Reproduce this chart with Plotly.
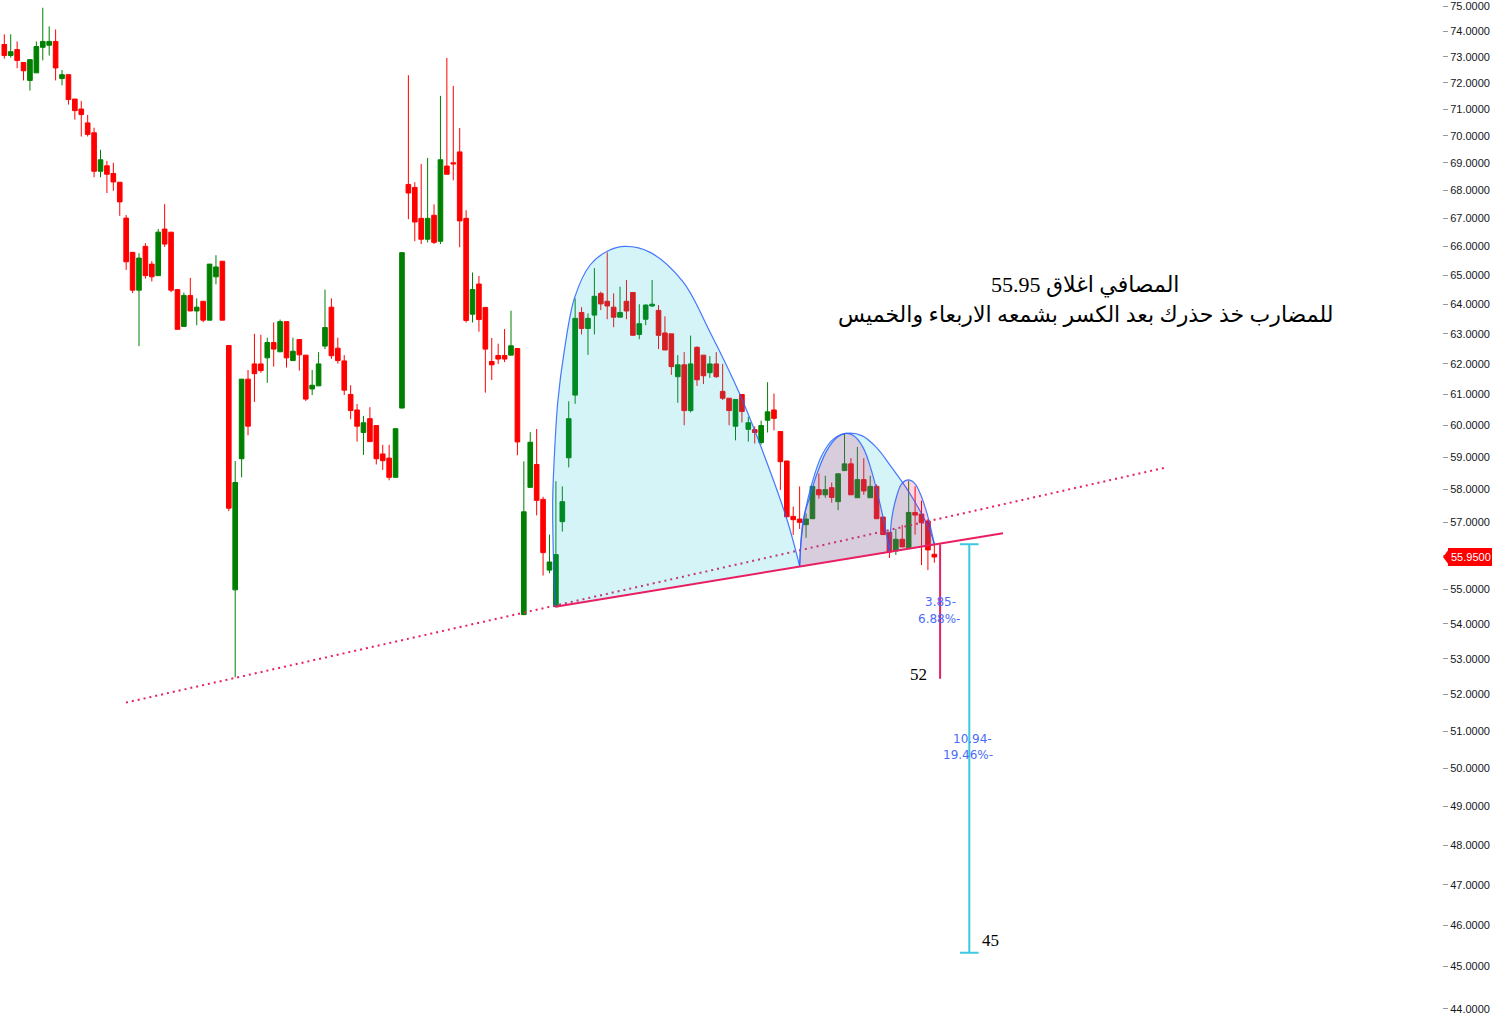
import math
import plotly.graph_objects as go

# ---------------- candle data (daily OHLC) ----------------
opens = [73.48, 73.05, 73.28, 72.78, 72.09, 72.38, 73.37, 73.45, 73.60, 72.16,
         72.31, 71.38, 71.00, 70.48, 70.11, 68.69, 68.89, 68.61, 68.29, 67.00,
         65.79, 64.48, 66.00, 65.38, 64.98, 66.61, 66.50, 64.50, 63.25, 64.30,
         63.77, 64.10, 63.46, 64.94, 65.48, 62.61, 54.98, 58.95, 61.50, 62.00,
         62.00, 62.20, 62.71, 62.40, 63.41, 62.11, 62.81, 62.29, 61.18, 61.28,
         62.59, 63.90, 62.52, 62.10, 61.00, 60.50, 59.78, 60.22, 60.00, 59.10,
         58.97, 58.37, 60.56, 68.21, 68.10, 66.99, 66.25, 67.10, 66.18, 68.88,
         69.00, 69.40, 66.99, 63.66, 64.69, 63.89, 62.08, 62.28, 62.28, 62.29,
         62.51, 54.26, 58.06, 58.77, 57.69, 55.56, 54.49, 57.01, 58.98, 60.98,
         63.72, 63.18, 63.63, 64.37, 64.10, 63.90, 63.56, 64.10, 64.40, 62.98,
         63.49, 63.94, 63.79, 63.03, 63.00, 61.58, 61.97, 60.48, 62.55, 62.29,
         61.71, 62.00, 61.10, 60.88, 59.98, 61.00, 59.88, 59.87, 59.46, 60.17,
         60.50, 59.81, 58.88, 57.17, 57.09, 56.92, 57.10, 57.99, 57.83, 58.05,
         57.62, 58.58, 58.79, 57.74, 58.30, 57.74, 58.09, 57.15, 56.69, 56.13,
         56.48, 56.22, 57.29, 57.24, 57.03, 56.03]
highs = [73.88, 73.88, 73.60, 72.78, 72.89, 73.60, 74.93, 74.19, 74.07, 72.49,
         72.31, 71.38, 71.31, 70.78, 70.30, 69.48, 69.07, 69.00, 68.29, 67.11,
         65.79, 65.76, 66.11, 65.48, 66.61, 67.50, 66.50, 64.50, 64.40, 64.90,
         64.20, 64.10, 65.38, 65.69, 65.48, 62.61, 58.88, 61.50, 61.80, 63.00,
         62.97, 62.87, 63.38, 63.48, 63.41, 62.87, 62.81, 62.29, 61.80, 62.39,
         64.50, 64.20, 62.87, 62.29, 61.30, 60.69, 60.31, 60.59, 60.00, 59.39,
         59.39, 59.90, 65.78, 72.29, 68.29, 68.96, 69.18, 67.49, 71.50, 72.96,
         71.88, 70.29, 67.28, 65.09, 64.97, 63.89, 62.86, 62.67, 63.16, 63.78,
         62.51, 58.87, 59.79, 59.89, 57.77, 56.62, 58.25, 58.09, 60.78, 64.20,
         63.90, 63.69, 65.24, 64.43, 65.79, 64.37, 64.60, 64.83, 64.40, 64.00,
         64.00, 64.83, 63.97, 63.59, 63.00, 62.29, 62.39, 62.94, 62.58, 62.29,
         62.26, 62.39, 62.00, 60.88, 60.84, 61.00, 60.28, 59.97, 60.16, 61.40,
         61.03, 59.81, 58.88, 57.47, 58.09, 57.26, 58.09, 58.49, 58.42, 58.21,
         58.48, 59.75, 58.97, 59.32, 58.97, 58.42, 58.15, 57.15, 56.69, 56.79,
         56.91, 58.27, 58.09, 57.65, 57.09, 56.37]
lows = [72.93, 72.97, 72.56, 72.09, 71.70, 72.38, 72.86, 73.05, 72.09, 71.90,
        71.17, 70.60, 69.97, 69.97, 68.47, 68.47, 67.90, 67.98, 67.08, 65.18,
        64.38, 62.59, 64.88, 64.78, 64.98, 65.98, 64.41, 63.15, 63.25, 63.77,
        63.29, 63.39, 63.46, 64.68, 63.46, 57.33, 52.48, 58.37, 59.69, 60.76,
        61.71, 61.38, 61.91, 62.40, 61.88, 62.11, 61.78, 60.79, 60.98, 61.28,
        62.49, 62.17, 62.01, 60.98, 60.20, 59.49, 59.07, 59.49, 58.77, 58.60,
        58.28, 58.37, 60.56, 66.96, 66.18, 66.08, 66.14, 66.08, 66.08, 68.58,
        68.36, 65.97, 63.38, 63.38, 63.07, 61.06, 61.47, 62.00, 62.06, 62.29,
        59.06, 54.26, 58.06, 57.20, 55.40, 55.47, 54.49, 56.71, 58.68, 60.70,
        62.98, 62.30, 62.98, 63.80, 63.49, 63.22, 63.56, 63.49, 62.95, 62.82,
        63.29, 63.91, 62.49, 62.46, 61.64, 60.73, 60.01, 60.42, 61.28, 61.34,
        61.54, 61.54, 60.82, 60.01, 59.53, 60.10, 59.49, 59.43, 59.40, 59.78,
        59.85, 57.98, 57.13, 56.61, 56.79, 56.52, 57.10, 57.71, 57.74, 57.59,
        57.36, 58.58, 57.83, 57.74, 57.83, 57.74, 57.10, 56.62, 55.92, 56.01,
        56.25, 56.22, 56.62, 55.71, 55.56, 55.78]
closes = [73.05, 73.20, 72.86, 72.46, 72.89, 73.40, 73.60, 73.60, 72.57, 72.31,
          71.36, 70.94, 70.79, 70.05, 68.69, 69.11, 68.58, 68.30, 67.58, 65.46,
          64.48, 65.59, 64.98, 64.94, 66.50, 66.08, 64.48, 63.15, 64.30, 63.77,
          63.90, 63.46, 65.38, 65.28, 63.46, 57.42, 58.21, 61.50, 59.98, 61.68,
          61.78, 62.71, 62.49, 63.41, 62.20, 62.42, 62.30, 60.85, 61.30, 62.00,
          63.21, 62.27, 62.11, 61.14, 60.48, 59.98, 60.09, 59.49, 58.95, 58.89,
          58.37, 59.90, 65.78, 67.90, 66.86, 66.25, 66.99, 66.14, 69.11, 68.58,
          68.96, 66.90, 63.45, 64.50, 63.48, 62.49, 61.97, 62.16, 62.16, 62.60,
          59.48, 57.31, 59.47, 57.66, 56.08, 55.80, 56.02, 57.62, 60.22, 63.52,
          63.18, 63.52, 64.27, 64.01, 63.94, 63.56, 63.72, 63.77, 62.95, 63.34,
          63.97, 64.00, 62.95, 62.46, 61.91, 61.97, 60.48, 62.00, 61.48, 61.61,
          62.00, 61.58, 60.88, 60.48, 60.84, 60.45, 60.09, 59.78, 60.00, 60.44,
          60.23, 58.86, 57.16, 57.07, 56.99, 57.09, 58.09, 57.83, 57.99, 57.75,
          58.48, 58.79, 57.83, 58.30, 57.95, 58.09, 57.10, 56.62, 56.10, 56.48,
          56.25, 57.29, 57.21, 56.98, 56.16, 55.95]
bars = list(range(len(opens)))

# ---------------- price scale ----------------
tick_vals = list(range(44, 76))
last_close = 55.95
# the 56 label is hidden behind the last-price badge on the original chart
tick_text = ["" if v == 56 else f"{v:.4f}" for v in tick_vals]
y_lo, y_hi = 43.90, 75.04

# ---------------- drawings (bar index, price) ----------------
dotted_x = [18.97, 180.96]
dotted_y = [51.78, 58.67]
neck_x = [85.9, 155.7]
neck_y = [54.49, 56.66]

arc1_x = [85.9, 85.6, 85.5, 85.7, 86.3, 87.3, 88.9, 91.3, 94.0, 96.8, 100.7,
          105.8, 110.0, 114.7, 117.8, 122.0, 124.0]
arc1_y = [54.49, 56.03, 57.68, 58.79, 60.78, 62.42, 64.21, 65.34, 65.83, 66.0,
          65.79, 64.77, 63.07, 61.0, 59.42, 57.09, 55.68]
arc2_x = [124.0, 124.57, 125.6, 126.7, 128.2, 129.8, 131.1, 132.4, 133.9, 135.2,
          136.5, 137.6, 138.0]
arc2_y = [55.68, 57.09, 57.77, 58.48, 59.19, 59.62, 59.75, 59.68, 59.30, 58.58,
          57.58, 56.58, 56.08]
arc3_x = [124.0, 124.26, 124.84, 125.9, 127.4, 129.25, 131.3, 133.7, 136.0,
          138.35, 140.7, 142.8, 144.3, 145.0]
arc3_y = [55.68, 56.48, 57.29, 58.17, 59.03, 59.57, 59.75, 59.68, 59.30, 58.68,
          58.02, 57.33, 56.74, 56.33]
arc4_x = [138.0, 138.35, 139.1, 139.9, 140.95, 142.0, 143.0, 144.1, 145.0]
arc4_y = [56.08, 57.09, 57.77, 58.17, 58.29, 58.17, 57.77, 57.09, 56.33]

short_target_x = 145.9
short_target_y = [56.33, 52.44]
long_target_x = 150.45
long_target_y = [56.33, 45.33]
cap_x = [149.0, 151.9]

GREEN = "#008000"
RED = "#ff0000"
PINK = "#e91e63"
BLUE = "rgba(41,98,255,0.85)"
CYAN_FILL = "rgba(0,188,212,0.17)"
PINK_FILL = "rgba(233,30,99,0.18)"
MEASURE_BLUE = "#4a6cf7"
CYAN_LINE = "#3cc8e0"

fig = go.Figure()
fig.add_trace(go.Candlestick(
    x=bars, open=opens, high=highs, low=lows, close=closes,
    increasing=dict(line=dict(color=GREEN, width=1), fillcolor=GREEN),
    decreasing=dict(line=dict(color=RED, width=1), fillcolor=RED),
    whiskerwidth=0, showlegend=False, hoverinfo="skip"))

fig.add_trace(go.Scatter(x=dotted_x, y=dotted_y, mode="lines",
                         line=dict(color=PINK, width=2, dash="2px,4px"),
                         showlegend=False, hoverinfo="skip"))

for ax_, ay_, fc in [(arc1_x, arc1_y, CYAN_FILL), (arc3_x, arc3_y, CYAN_FILL),
                     (arc2_x, arc2_y, PINK_FILL), (arc4_x, arc4_y, PINK_FILL)]:
    fig.add_trace(go.Scatter(x=ax_, y=ay_, mode="lines", fill="toself", fillcolor=fc,
                             line=dict(color=BLUE, width=1.2, shape="spline", smoothing=1.0),
                             showlegend=False, hoverinfo="skip"))

fig.add_trace(go.Scatter(x=neck_x, y=neck_y, mode="lines",
                         line=dict(color=PINK, width=2), showlegend=False, hoverinfo="skip"))

fig.add_trace(go.Scatter(x=[short_target_x, short_target_x], y=short_target_y, mode="lines",
                         line=dict(color=PINK, width=2), showlegend=False, hoverinfo="skip"))

fig.add_trace(go.Scatter(
    x=[long_target_x, long_target_x, None, cap_x[0], cap_x[1], None, cap_x[0], cap_x[1]],
    y=[long_target_y[0], long_target_y[1], None, long_target_y[0], long_target_y[0], None,
       long_target_y[1], long_target_y[1]],
    mode="lines", line=dict(color=CYAN_LINE, width=2), showlegend=False, hoverinfo="skip"))

ly = math.log10
annotations = [
    dict(x=168.5, y=ly(64.67), text="المصافي اغلاق 55.95"),
    dict(x=168.5, y=ly(63.62), text="للمضارب خذ حذرك بعد الكسر بشمعه الاربعاء والخميس"),
]
for a in annotations:
    a.update(xref="x", yref="y", showarrow=False, xanchor="center", yanchor="middle",
             font=dict(family="Liberation Serif, DejaVu Serif, DejaVu Sans", size=22, color="#000"))

for txt, xx, yy in [("3.85-", 146.0, 54.63), ("6.88%-", 145.7, 54.14),
                    ("10.94-", 150.9, 50.80), ("19.46%-", 150.3, 50.35)]:
    annotations.append(dict(x=xx, y=ly(yy), xref="x", yref="y", text=txt, showarrow=False,
                            xanchor="center", yanchor="middle",
                            font=dict(family="DejaVu Sans", size=12, color=MEASURE_BLUE)))

for txt, xx, yy in [("52", 142.5, 52.56), ("45", 153.8, 45.62)]:
    annotations.append(dict(x=xx, y=ly(yy), xref="x", yref="y", text=txt, showarrow=False,
                            xanchor="center", yanchor="middle",
                            font=dict(family="Liberation Serif", size=17, color="#000")))

# last-price label on the price scale
annotations.append(dict(x=1, xref="paper", xanchor="left", xshift=6, y=ly(last_close), yref="y",
                        yanchor="middle", text=f"{last_close:.4f}", showarrow=False,
                        bgcolor=RED, bordercolor=RED, borderpad=2,
                        font=dict(family="Liberation Sans", size=11, color="#fff")))

plot_w = 1442
frac = (ly(last_close) - ly(y_lo)) / (ly(y_hi) - ly(y_lo))
half_h = 8.0 / 1015
shapes = [dict(type="path", xref="paper", yref="paper", layer="above",
               path=(f"M {1 + 1 / plot_w},{frac} L {1 + 7 / plot_w},{frac + half_h} "
                     f"L {1 + 7 / plot_w},{frac - half_h} Z"),
               fillcolor=RED, line=dict(width=0))]

fig.update_layout(
    width=1492, height=1015,
    margin=dict(l=0, r=50, t=0, b=0),
    paper_bgcolor="white", plot_bgcolor="white",
    showlegend=False, boxgap=0.28, boxgroupgap=0,
    annotations=annotations, shapes=shapes,
    xaxis=dict(range=[-0.67, 224.15], visible=False, rangeslider=dict(visible=False),
               showgrid=False, zeroline=False),
    yaxis=dict(type="log", range=[ly(y_lo), ly(y_hi)], side="right",
               tickvals=tick_vals, ticktext=tick_text, ticks="outside", ticklen=5,
               ticklabeloverflow="allow",
               tickcolor="#9598a1", tickfont=dict(family="Liberation Sans", size=11, color="#131722"),
               showgrid=False, zeroline=False, showline=False),
)

fig.write_html("out.html", config={"displayModeBar": False},
               post_script="document.body.style.margin='0px';")
